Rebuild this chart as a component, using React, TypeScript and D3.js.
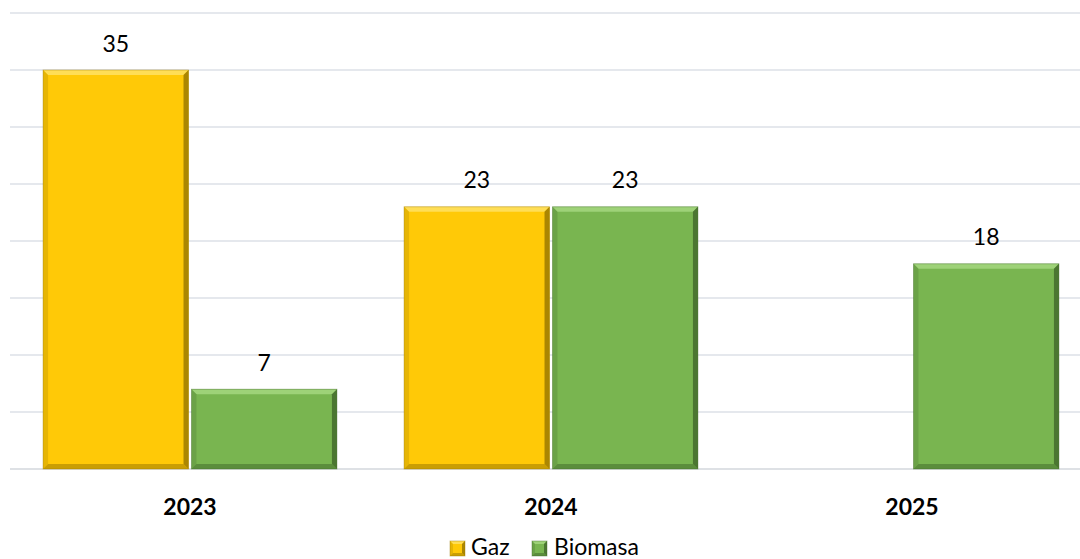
import React from "react";
import * as d3 from "d3";

const categories = ["2023", "2024", "2025"];
const seriesNames = ["Gaz", "Biomasa"];
const gazValues: (number | null)[] = [35, 23, null];
const biomasaValues: (number | null)[] = [7, 23, 18];
const yTicks = [0, 5, 10, 15, 20, 25, 30, 35, 40];
const colors = ["#FFC907", "#79B550"];
const lightColors = ["#FFE36A", "#A8D982"];
const darkColors = ["#9C7A00", "#436B2B"];

const W = 1080, H = 559;
const plotLeft = 9.5, plotRight = 1092.5, plotTop = 13, plotBottom = 469;
const font = "Lato, 'Open Sans', sans-serif";

function Bevel({ x, y, w, h, i, b = 5 }: { x: number; y: number; w: number; h: number; i: number; b?: number }) {
  const bb = Math.min(b, w / 2, h / 2);
  const p = (pts: number[][]) => pts.map((q) => q.join(",")).join(" ");
  return (
    <g>
      <rect x={x} y={y} width={w} height={h} fill={colors[i]} />
      <polygon points={p([[x, y], [x + w, y], [x + w - bb, y + bb], [x + bb, y + bb]])} fill={lightColors[i]} opacity={0.8} />
      <polygon points={p([[x, y], [x + bb, y + bb], [x + bb, y + h - bb], [x, y + h]])} fill={darkColors[i]} opacity={0.25} />
      <polygon points={p([[x + w, y], [x + w, y + h], [x + w - bb, y + h - bb], [x + w - bb, y + bb]])} fill={darkColors[i]} opacity={0.85} />
      <polygon points={p([[x, y + h], [x + w, y + h], [x + w - bb, y + h - bb], [x + bb, y + h - bb]])} fill={darkColors[i]} opacity={0.55} />
      <rect x={x} y={y} width={w} height={h} fill="none" stroke={darkColors[i]} strokeOpacity={0.5} strokeWidth={0.8} />
    </g>
  );
}

export default function App() {
  const x0 = d3.scaleBand().domain(categories).range([plotLeft, plotRight]).paddingInner(0.186).paddingOuter(0.093);
  const x1 = d3.scaleBand().domain(seriesNames).range([0, x0.bandwidth()]).paddingInner(0.02);
  const y = d3.scaleLinear().domain([0, 40]).range([plotBottom, plotTop]);
  const series = [gazValues, biomasaValues];

  return (
    <svg width={W} height={H} style={{ position: "absolute", left: 0, top: 0, background: "#fff" }}>
      {yTicks.map((t) => (
        <line key={t} x1={10} x2={W} y1={y(t)} y2={y(t)} stroke={t === 0 ? "#d3d7dd" : "#dde1e7"} strokeWidth={1.6} />
      ))}
      {categories.map((c, ci) =>
        series.map((vals, si) => {
          const v = vals[ci];
          if (v == null) return null;
          const bx = (x0(c) as number) + (x1(seriesNames[si]) as number);
          const bw = x1.bandwidth();
          const by = y(v);
          return (
            <g key={c + si}>
              <Bevel x={bx} y={by} w={bw} h={plotBottom - by} i={si} />
              <text x={bx + bw / 2} y={by - 18.5} textAnchor="middle" fontFamily={font} fontSize={23} fill="#000">
                {v}
              </text>
            </g>
          );
        })
      )}
      {categories.map((c) => (
        <text key={c} x={(x0(c) as number) + x0.bandwidth() / 2} y={514.5} textAnchor="middle" fontFamily={font} fontSize={23} fontWeight="bold" fill="#000">
          {c}
        </text>
      ))}
      {seriesNames.map((s, i) => {
        const lx = i === 0 ? 450 : 532;
        return (
          <g key={s}>
            <Bevel x={lx} y={541} w={15} h={15} i={i} b={3} />
            <text x={i === 0 ? 471 : 554} y={554.5} fontFamily={font} fontSize={23} fill="#000">
              {s}
            </text>
          </g>
        );
      })}
    </svg>
  );
}
